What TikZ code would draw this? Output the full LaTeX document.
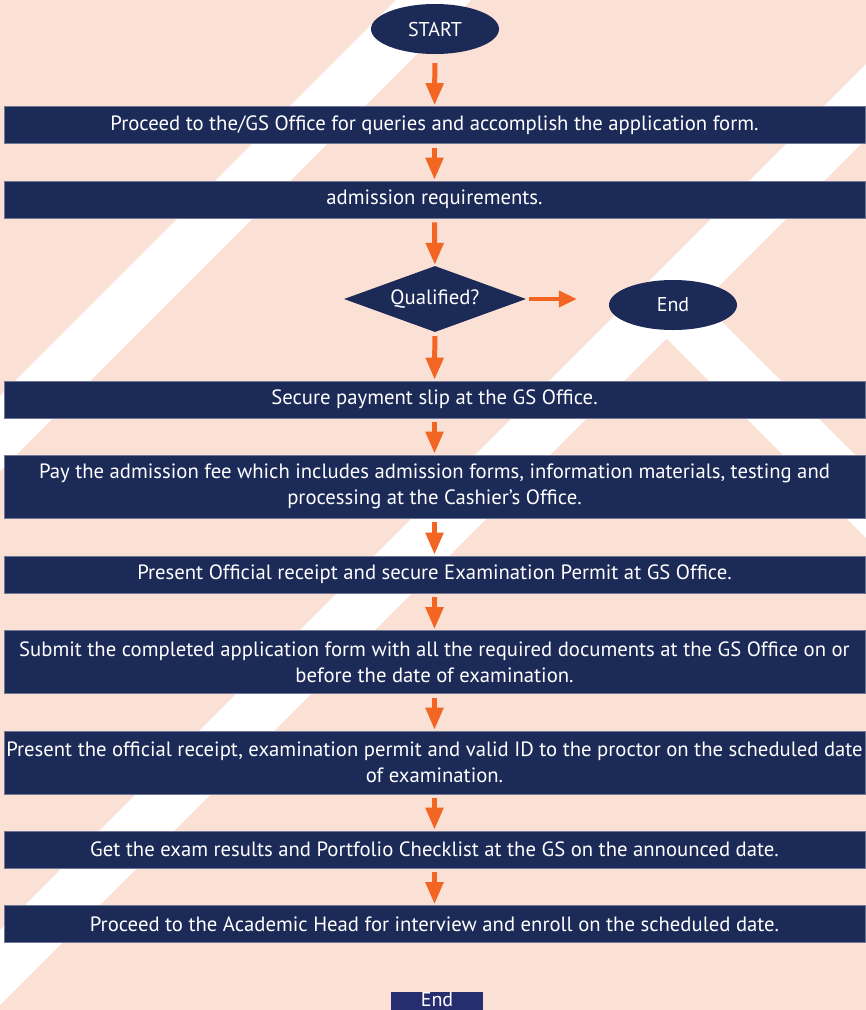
\documentclass[tikz,border=0pt]{standalone}
\usepackage{fontspec}
\setmainfont{PT Sans}
\usetikzlibrary{arrows.meta,calc,shapes.geometric}
\definecolor{navy}{RGB}{28,42,88}
\definecolor{peach}{RGB}{251,224,213}
\definecolor{flowor}{RGB}{242,101,34}
\definecolor{endblue}{RGB}{38,46,112}
\definecolor{edgegray}{RGB}{112,120,150}
\tikzset{%
	stepbox/.style  = {rectangle, fill=navy, draw=edgegray, line width=0.6pt, minimum width=861pt, minimum height=37pt, inner sep=0pt, text=white, align=center, font=\fontsize{20.7}{26}\selectfont},
	tallbox/.style  = {stepbox, minimum height=63pt},
	terminal/.style = {ellipse, fill=navy, minimum width=128pt, minimum height=50pt, inner sep=0pt, text=white, font=\fontsize{20}{26}\selectfont},
	decision/.style = {diamond, fill=navy, aspect=2.8, minimum width=182pt, minimum height=66pt, inner sep=0pt, text=white, font=\fontsize{20.7}{26}\selectfont},
	flow/.style     = {draw=flowor, line width=5pt, -{Triangle[length=22pt,width=17pt]}, shorten <=4pt, shorten >=1pt},
	sideflow/.style = {draw=flowor, line width=4pt, -{Triangle[length=18pt,width=16pt]}, shorten <=3pt, shorten >=32pt},
	stripe/.style   = {fill=white, draw=none},
}
\begin{document}
\begin{tikzpicture}[x=1pt,y=-1pt]
	\useasboundingbox (0,0) rectangle (866,1010);
	\clip (0,0) rectangle (866,1010);
	% background
	\fill[peach] (0,0) rectangle (866,1010);
	\fill[stripe] (396,0) -- (471,0) -- (0,471) -- (0,396) -- cycle;
	\fill[stripe] (866,64) -- (866,139) -- (0,1005) -- (0,930) -- cycle;
	\fill[stripe] (649,321) -- (685,285) -- (866,466) -- (866,538) -- cycle;

	\node[terminal] (start) at (435,29) {START};
	\node[stepbox] (s1) at (434.5,125) {Proceed to the/GS Office for queries and accomplish the application form.};
	\node[stepbox] (s2) at (434.5,199.5) {admission requirements.};
	\node[decision] (qual) at (435,299) {Qualified?};
	\node[terminal] (endA) at (673,305) {End};
	\node[stepbox] (s3) at (434.5,399.5) {Secure payment slip at the GS Office.};
	\node[tallbox] (s4) at (434.5,486.5) {Pay the admission fee which includes admission forms, information materials, testing and\\ processing at the Cashier’s Office.};
	\node[stepbox] (s5) at (434.5,574.5) {Present Official receipt and secure Examination Permit at GS Office.};
	\node[tallbox] (s6) at (434.5,662) {Submit the completed application form with all the required documents at the GS Office on or\\ before the date of examination.};
	\node[tallbox] (s7) at (434.5,762.5) {Present the official receipt, examination permit and valid ID to the proctor on the scheduled date\\ of examination.};
	\node[stepbox] (s8) at (434.5,849.5) {Get the exam results and Portfolio Checklist at the GS on the announced date.};
	\node[stepbox] (s9) at (434.5,924) {Proceed to the Academic Head for interview and enroll on the scheduled date.};
	\node[rectangle, fill=endblue, anchor=north, minimum width=92pt, inner sep=0pt, text height=14pt, text depth=6pt, text=white, font=\fontsize{20}{26}\selectfont] (endB) at (437,992) {End};

	\draw[flow, shorten <=9pt] (start) -- (s1);
	\draw[flow] (s1) -- (s2);
	\draw[flow] (s2) -- (qual);
	\draw[sideflow] (qual.east) -- (qual.east -| endA.west);
	\draw[flow] (qual) -- (s3);
	\draw[flow] (s3) -- (s4);
	\draw[flow] (s4) -- (s5);
	\draw[flow] (s5) -- (s6);
	\draw[flow] (s6) -- (s7);
	\draw[flow] (s7) -- (s8);
	\draw[flow] (s8) -- (s9);
\end{tikzpicture}
\end{document}
